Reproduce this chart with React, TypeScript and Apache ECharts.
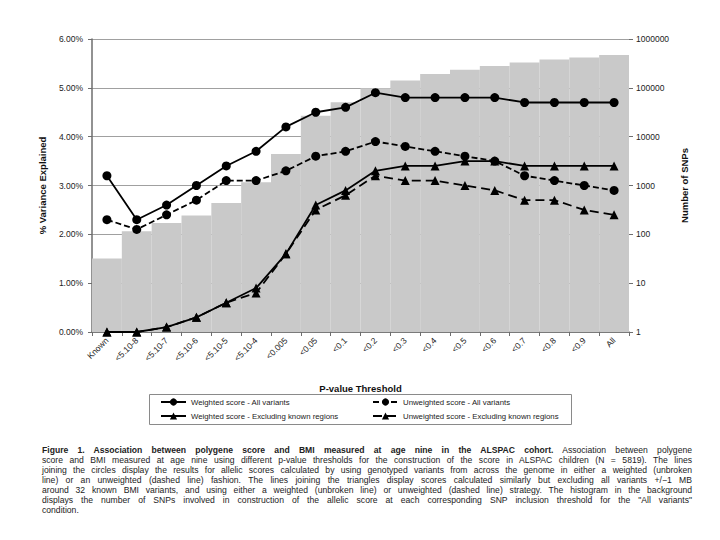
import React, { useEffect, useRef } from 'react';
import * as echarts from 'echarts';

// P-value thresholds (x categories)
const thresholds = [
  'Known', '<5.10-8', '<5.10-7', '<5.10-6', '<5.10-5', '<5.10-4', '<0.005', '<0.05',
  '<0.1', '<0.2', '<0.3', '<0.4', '<0.5', '<0.6', '<0.7', '<0.8', '<0.9', 'All',
];

// % variance explained
const weightedAll = [3.2, 2.3, 2.6, 3.0, 3.4, 3.7, 4.2, 4.5, 4.6, 4.9, 4.8, 4.8, 4.8, 4.8, 4.7, 4.7, 4.7, 4.7];
const unweightedAll = [2.3, 2.1, 2.4, 2.7, 3.1, 3.1, 3.3, 3.6, 3.7, 3.9, 3.8, 3.7, 3.6, 3.5, 3.2, 3.1, 3.0, 2.9];
const weightedExcl = [0, 0, 0.1, 0.3, 0.6, 0.9, 1.6, 2.6, 2.9, 3.3, 3.4, 3.4, 3.5, 3.5, 3.4, 3.4, 3.4, 3.4];
const unweightedExcl = [0, 0, 0.1, 0.3, 0.6, 0.8, 1.6, 2.5, 2.8, 3.2, 3.1, 3.1, 3.0, 2.9, 2.7, 2.7, 2.5, 2.4];

// Number of SNPs (histogram, log scale)
const snpCounts = [
  32, 116, 170, 243, 440, 1170, 4430, 26900, 50500, 98000,
  142000, 191000, 235000, 279000, 332000, 381000, 420000, 470000,
];

const legendLeft = ['Weighted score - All variants', 'Weighted score - Excluding known regions'];
const legendRight = ['Unweighted score - All variants', 'Unweighted score - Excluding known regions'];

// caption lines (bold lead-in on the first line)
const captionBold = 'Figure 1. Association between polygene score and BMI measured at age nine in the ALSPAC cohort.';
const captionLines = [
  ' Association between polygene',
  'score and BMI measured at age nine using different p-value thresholds for the construction of the score in ALSPAC children (N = 5819). The lines',
  'joining the circles display the results for allelic scores calculated by using genotyped variants from across the genome in either a weighted (unbroken',
  'line) or an unweighted (dashed line) fashion. The lines joining the triangles display scores calculated similarly but excluding all variants +/\u22121 MB',
  'around 32 known BMI variants, and using either a weighted (unbroken line) or unweighted (dashed line) strategy. The histogram in the background',
  'displays the number of SNPs involved in construction of the allelic score at each corresponding SNP inclusion threshold for the "All variants"',
  'condition.',
];

const FONT = '"Liberation Sans", Arial, sans-serif';
const AXIS_GREY = '#6e6e6e';

export default function App() {
  const chartRef = useRef<HTMLDivElement>(null);

  useEffect(() => {
    if (!chartRef.current) return;
    const chart = echarts.init(chartRef.current, undefined, { renderer: 'svg' });

    const lineSeries = (name: string, data: number[], symbol: string, dash: number[] | 'solid') => ({
      name,
      type: 'line' as const,
      data,
      yAxisIndex: 0,
      symbol,
      symbolSize: 9,
      itemStyle: { color: '#000' },
      lineStyle: { color: '#000', width: 1.8, type: dash },
      z: 5,
    });

    const legendBase = {
      orient: 'vertical' as const,
      top: 398,
      padding: 0,
      itemWidth: 25,
      itemHeight: 9,
      itemGap: 6,
      textStyle: { fontSize: 7.8, color: '#222', fontFamily: FONT },
    };

    const option: echarts.EChartsOption = {
      animation: false,
      backgroundColor: '#fff',
      textStyle: { fontFamily: FONT },
      grid: { left: 92, right: 91, top: 39, bottom: 208 },
      legend: [
        { ...legendBase, data: legendLeft, left: 160 },
        { ...legendBase, data: legendRight, left: 372 },
      ],
      graphic: [
        {
          type: 'rect',
          shape: { x: 149.5, y: 394.5, width: 422, height: 30 },
          style: { fill: 'none', stroke: '#8a8a8a', lineWidth: 1 },
          silent: true,
        },
      ],
      xAxis: {
        type: 'category',
        data: thresholds,
        boundaryGap: true,
        name: 'P-value Threshold',
        nameLocation: 'middle',
        nameGap: 51,
        nameTextStyle: { fontSize: 9.5, fontWeight: 'bold', color: '#111', fontFamily: FONT },
        axisLine: { onZero: false, lineStyle: { color: AXIS_GREY, width: 1.5 } },
        axisTick: { show: true, length: 4, lineStyle: { color: AXIS_GREY } },
        axisLabel: { rotate: 45, fontSize: 8.5, color: '#222', margin: 7, interval: 0, fontFamily: FONT },
        splitLine: { show: false },
      },
      yAxis: [
        {
          type: 'value',
          min: 0,
          max: 6,
          interval: 1,
          position: 'left',
          name: '% Variance Explained',
          nameLocation: 'middle',
          nameGap: 45,
          nameRotate: 90,
          nameTextStyle: { fontSize: 9.5, fontWeight: 'bold', color: '#111', fontFamily: FONT },
          axisLine: { show: true, lineStyle: { color: AXIS_GREY, width: 1.5 } },
          axisTick: { show: true, length: 4, lineStyle: { color: AXIS_GREY } },
          axisLabel: {
            fontSize: 8.5,
            color: '#222',
            margin: 9,
            fontFamily: FONT,
            formatter: (v: number) => `${v.toFixed(2)}%`,
          },
          splitLine: { show: true, lineStyle: { color: '#a0a0a0', width: 1 } },
        },
        {
          type: 'log',
          logBase: 10,
          min: 1,
          max: 1000000,
          position: 'right',
          name: 'Number of SNPs',
          nameLocation: 'middle',
          nameGap: 49,
          nameRotate: 90,
          nameTextStyle: { fontSize: 9.5, fontWeight: 'bold', color: '#111', fontFamily: FONT },
          axisLine: { show: false },
          axisTick: { show: true, length: 4, lineStyle: { color: AXIS_GREY } },
          axisLabel: {
            fontSize: 8.5,
            color: '#222',
            margin: 7,
            fontFamily: FONT,
            formatter: (v: number) => String(Math.round(v)),
          },
          splitLine: { show: false },
        },
      ],
      series: [
        {
          name: 'Number of SNPs',
          type: 'bar',
          data: snpCounts,
          yAxisIndex: 1,
          barCategoryGap: '0%',
          itemStyle: { color: '#c9c9c9' },
          silent: true,
          z: 1,
        },
        lineSeries(legendLeft[0], weightedAll, 'circle', 'solid'),
        lineSeries(legendRight[0], unweightedAll, 'circle', [6, 3]),
        lineSeries(legendLeft[1], weightedExcl, 'triangle', 'solid'),
        lineSeries(legendRight[1], unweightedExcl, 'triangle', [9, 5]),
      ],
    };

    chart.setOption(option);
    return () => chart.dispose();
  }, []);

  return (
    <div style={{ position: 'absolute', left: 0, top: 0, width: 720, height: 540, background: '#fff' }}>
      <div ref={chartRef} style={{ position: 'absolute', left: 0, top: 0, width: 720, height: 540 }} />
      <div
        style={{
          position: 'absolute',
          left: 42,
          top: 445,
          width: 650,
          fontFamily: FONT,
          fontSize: 8.6,
          lineHeight: '10px',
          color: '#222',
        }}
      >
        {captionLines.map((line, i) => (
          <div
            key={i}
            style={{
              whiteSpace: 'nowrap',
              height: 10,
              textAlign: 'justify',
              textAlignLast: i === captionLines.length - 1 ? 'left' : 'justify',
            }}
          >
            {i === 0 && <b>{captionBold}</b>}
            {line}
          </div>
        ))}
      </div>
    </div>
  );
}
